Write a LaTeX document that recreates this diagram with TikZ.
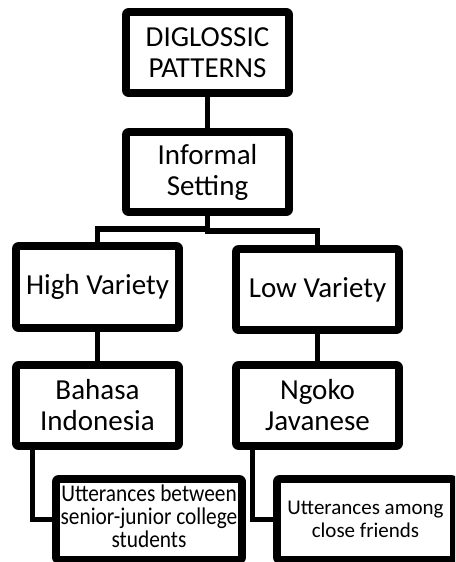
\documentclass[tikz,border=0pt]{standalone}
\usepackage{fontspec}
\setmainfont{Carlito}
\begin{document}
\begin{tikzpicture}[x=1pt,y=-1pt,
  box/.style={draw=black, fill=white, line width=7.7pt, rounded corners=2pt,
    line join=round, inner sep=0pt, outer sep=0pt, align=center,
    minimum width=163pt, minimum height=81pt,
    font=\fontsize{29}{31}\selectfont},
  smallbox/.style={box, font=\fontsize{21}{23}\selectfont},
  link/.style={draw=black, line width=5.5pt, line join=miter}]
\useasboundingbox (0,0) rectangle (455,562);
\clip (0,0) rectangle (455,562);
\fill[white] (0,0) rectangle (455,562);

\node[box] (A) at (207.5,52.5) {DIGLOSSIC\\PATTERNS};
\node[box, minimum height=80pt] (B) at (207.5,172) {Informal\\Setting};
\node[box, minimum height=82pt] (HV) at (97.5,287) {High Variety};
\node[box] (LV) at (317.5,289.5) {Low Variety};
\node[box] (BI) at (97.5,405.5) {Bahasa\\Indonesia};
\node[box] (NJ) at (317.5,405.5) {Ngoko\\Javanese};
\node[box, minimum width=186pt] (U1) at (149,519.5)
  {\fontsize{24}{22}\selectfont\scalebox{0.89}[1]{\begin{tabular}{@{}c@{}}Utterances between\\senior-junior college\\students\end{tabular}}};
\node[smallbox, minimum width=177pt] (U2) at (365.5,519.5) {Utterances among\\close friends};

\path (BI.south west) ++(16.5,0) coordinate (biL);
\path (NJ.south west) ++(16.5,0) coordinate (njL);
\path (B.south) ++(0,17) coordinate (bL);
\path (B.south) ++(0,19) coordinate (bR);

\draw[link] (A.south) -- (B.north);
\draw[link] (B.south) -- (bL) -| (HV.north);
\draw[link] (B.south) -- (bR) -| (LV.north);
\draw[link] (HV.south) -- (BI.north);
\draw[link] (LV.south) -- (NJ.north);
\draw[link] (biL) |- (U1.west);
\draw[link] (njL) |- (U2.west);
\end{tikzpicture}
\end{document}
